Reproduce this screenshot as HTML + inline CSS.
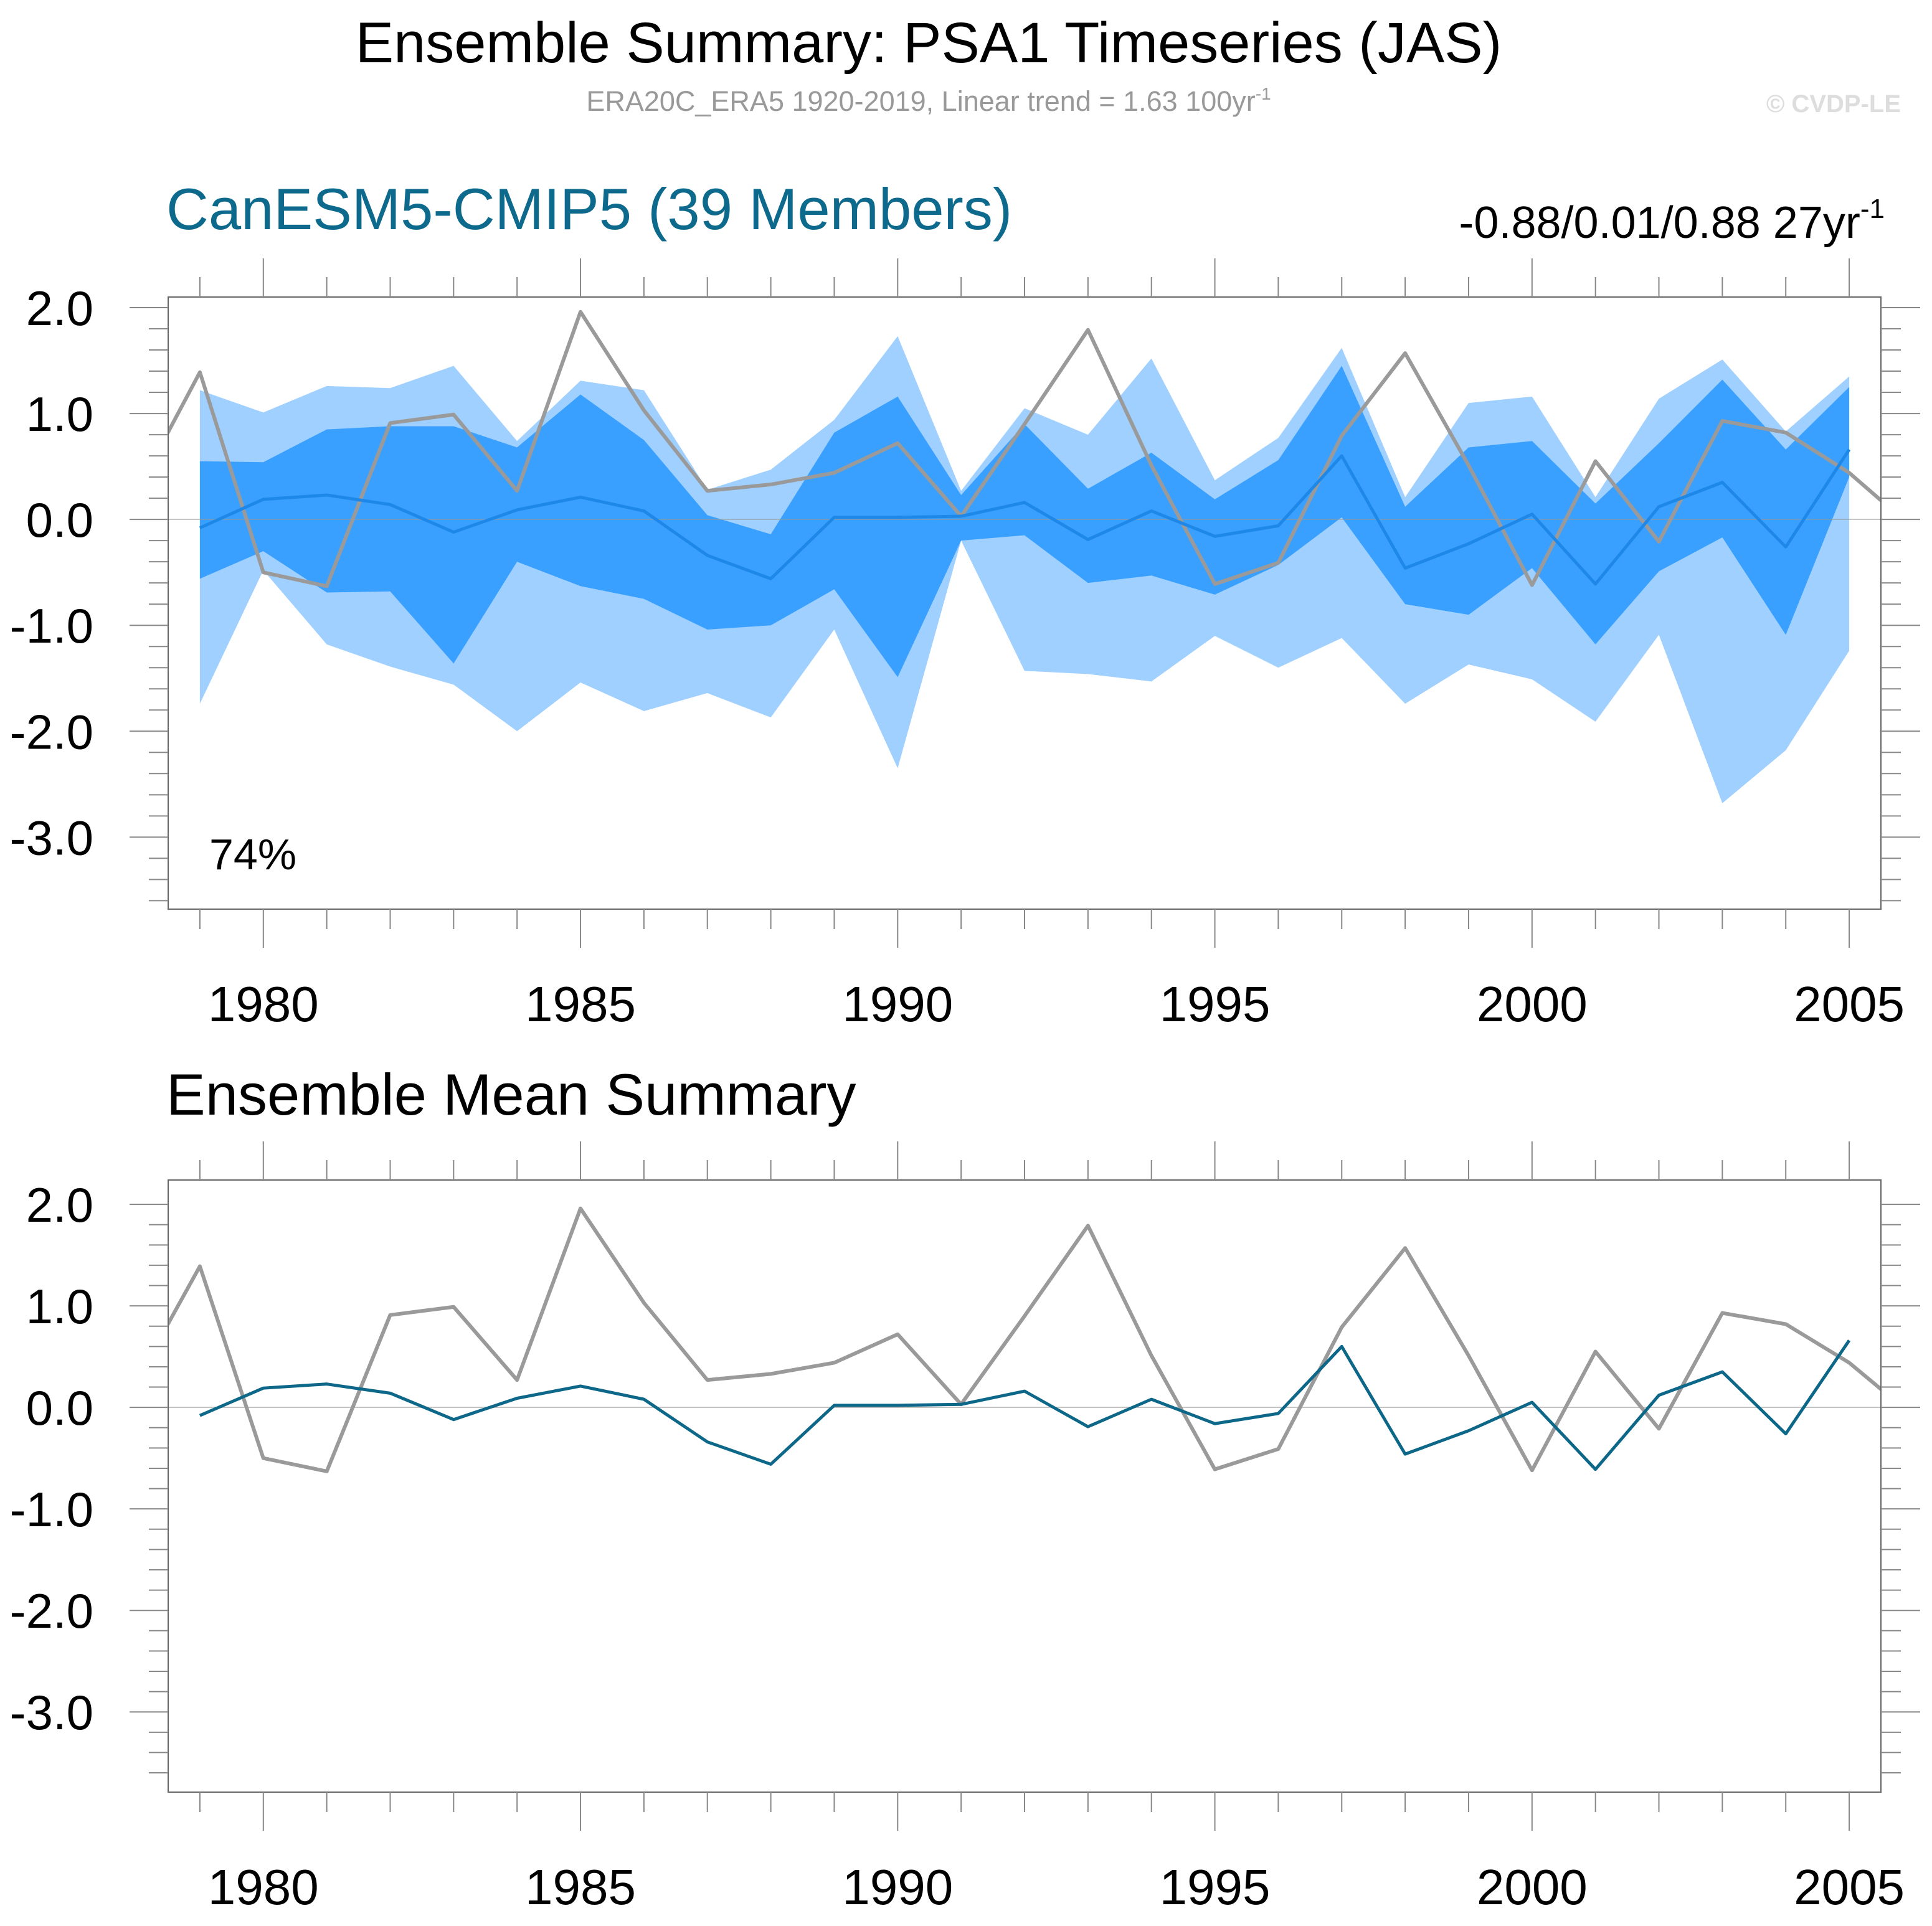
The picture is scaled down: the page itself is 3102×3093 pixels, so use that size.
<!DOCTYPE html>
<html><head><meta charset="utf-8"><style>
html,body{margin:0;padding:0;background:#fff}
svg{display:block;font-family:"Liberation Sans",sans-serif}
</style></head><body>
<svg id="chart" xmlns="http://www.w3.org/2000/svg" width="3102" height="3093" viewBox="0 0 3102 3093">
<text x="1491" y="100" font-size="92" text-anchor="middle" fill="#000">Ensemble Summary: PSA1 Timeseries (JAS)</text>
<text x="1491" y="178" font-size="45" text-anchor="middle" fill="#999">ERA20C_ERA5 1920-2019, Linear trend = 1.63 100yr<tspan font-size="28" dy="-18">-1</tspan></text>
<text x="3052" y="180" font-size="40" font-weight="bold" text-anchor="end" fill="#ddd">© CVDP-LE</text>
<text x="267" y="368" font-size="94" fill="#0e6a8c">CanESM5-CMIP5 (39 Members)</text>
<text x="3026" y="382" font-size="72" text-anchor="end" fill="#000">-0.88/0.01/0.88 27yr<tspan font-size="44" dy="-32">-1</tspan></text>
<text x="267" y="1790" font-size="94" fill="#000">Ensemble Mean Summary</text>
<g id="top"></g>
<g id="bot"></g>
</svg>
<script>
const years = [1979,1980,1981,1982,1983,1984,1985,1986,1987,1988,1989,1990,1991,1992,1993,1994,1995,1996,1997,1998,1999,2000,2001,2002,2003,2004,2005];
const obsYears = [1978,1979,1980,1981,1982,1983,1984,1985,1986,1987,1988,1989,1990,1991,1992,1993,1994,1995,1996,1997,1998,1999,2000,2001,2002,2003,2004,2005,2006];
const obsValues = [0.26,1.39,-0.50,-0.63,0.91,0.99,0.27,1.96,1.03,0.27,0.33,0.44,0.72,0.03,0.90,1.79,0.51,-0.61,-0.41,0.79,1.57,0.51,-0.62,0.55,-0.21,0.93,0.82,0.44,-0.08];
const ensMean = [-0.08,0.19,0.23,0.14,-0.12,0.09,0.21,0.08,-0.34,-0.56,0.02,0.02,0.03,0.16,-0.19,0.08,-0.16,-0.06,0.60,-0.46,-0.23,0.05,-0.61,0.12,0.35,-0.26,0.66];
const innerUpper = [0.55,0.54,0.85,0.88,0.88,0.68,1.18,0.75,0.04,-0.14,0.82,1.16,0.23,0.90,0.29,0.63,0.19,0.56,1.45,0.12,0.68,0.74,0.15,0.72,1.32,0.66,1.25];
const innerLower = [-0.56,-0.30,-0.69,-0.68,-1.36,-0.40,-0.63,-0.75,-1.04,-1.00,-0.66,-1.49,-0.20,-0.15,-0.60,-0.53,-0.71,-0.43,0.02,-0.80,-0.90,-0.46,-1.18,-0.49,-0.17,-1.09,0.40];
const outerUpper = [1.22,1.01,1.26,1.24,1.45,0.74,1.31,1.22,0.28,0.47,0.94,1.73,0.27,1.05,0.80,1.52,0.37,0.77,1.62,0.21,1.10,1.16,0.21,1.14,1.51,0.83,1.35];
const outerLower = [-1.74,-0.48,-1.18,-1.39,-1.56,-2.00,-1.54,-1.81,-1.64,-1.87,-1.04,-2.35,-0.20,-1.43,-1.46,-1.53,-1.10,-1.40,-1.12,-1.74,-1.37,-1.51,-1.91,-1.09,-2.68,-2.18,-1.24];
const yTickValues = [2,1,0,-1,-2,-3];
const yTickLabels = ["2.0","1.0","0.0","-1.0","-2.0","-3.0"];
const xTickValues = [1980,1985,1990,1995,2000,2005];
const xTickLabels = ["1980","1985","1990","1995","2000","2005"];
const percentLabel = "74%";

const NS="http://www.w3.org/2000/svg";
const L=270,R=3020,X0=1978.5,X1=2005.5,H=983;
const xs=v=>L+(v-X0)/(X1-X0)*(R-L);
function mk(tag,attrs,parent){const e=document.createElementNS(NS,tag);for(const k in attrs)e.setAttribute(k,attrs[k]);parent.appendChild(e);return e;}
function panel(g,top,full,YMAX,YMIN){
  const ys=v=>top+(YMAX-v)/(YMAX-YMIN)*H;
  const cid='clip'+top;
  const cp=mk('clipPath',{id:cid},g);mk('rect',{x:L,y:top,width:R-L,height:H},cp);
  const pg=mk('g',{'clip-path':'url(#'+cid+')'},g);
  if(full){
    const outer=years.map((y,i)=>xs(y)+','+ys(outerUpper[i])).concat(years.map((y,i)=>xs(y)+','+ys(outerLower[i])).reverse()).join(' ');
    const p1=mk('polygon',{points:outer,fill:'#a0d0ff'},pg);
    
    
    const inner=years.map((y,i)=>xs(y)+','+ys(innerUpper[i])).concat(years.map((y,i)=>xs(y)+','+ys(innerLower[i])).reverse()).join(' ');
    const p2=mk('polygon',{points:inner,fill:'#3aa0ff'},pg);
    
    
  }
  const z=mk('line',{x1:L,x2:R,y1:ys(0),y2:ys(0),stroke:'#999','stroke-width':1.5,opacity:0.7},pg);
  
  
  const ol=mk('polyline',{points:obsYears.map((y,i)=>xs(y)+','+ys(obsValues[i])).join(' '),fill:'none',stroke:'#9a9a9a','stroke-width':6,'stroke-linejoin':'round'},pg);
  
  
  const ml=mk('polyline',{points:years.map((y,i)=>xs(y)+','+ys(ensMean[i])).join(' '),fill:'none',stroke:full?'#1e88e8':'#0d6788','stroke-width':5,'stroke-linejoin':'round'},pg);
  
  
  const fr=mk('rect',{x:L,y:top,width:R-L,height:H,fill:'none',stroke:'#666','stroke-width':2},g);
  
  
  for(let k=0;;k++){
    const vv=Math.round((2-0.2*k)*10)/10; if(vv<YMIN)break;
    const major=Math.abs(vv-Math.round(vv))<1e-6;
    const y=ys(vv);
    mk('line',{x1:major?208:239,x2:L,y1:y,y2:y,stroke:'#888','stroke-width':2},g);
    mk('line',{x1:R,x2:major?3083:3052,y1:y,y2:y,stroke:'#888','stroke-width':2},g);
  }
  yTickValues.forEach((v,i)=>{
    const t=mk('text',{x:150,y:ys(v)+28,'font-size':78,'text-anchor':'end',fill:'#000'},g);
    
    
    t.textContent=yTickLabels[i];
  });
  for(let yr=1979;yr<=2005;yr++){
    const major=yr%5===0;const x=xs(yr);
    mk('line',{x1:x,x2:x,y1:top,y2:top-(major?62:32),stroke:'#888','stroke-width':2},g);
    mk('line',{x1:x,x2:x,y1:top+H,y2:top+H+(major?62:32),stroke:'#888','stroke-width':2},g);
  }
  xTickValues.forEach((v,i)=>{
    const t=mk('text',{x:xs(v),y:top+H+180,'font-size':80,'text-anchor':'middle',fill:'#000'},g);
    
    
    t.textContent=xTickLabels[i];
  });
  if(full){
    const t=mk('text',{x:336,y:top+H-64,'font-size':70,fill:'#000'},g);
    
    
    t.textContent=percentLabel;
  }
}
panel(document.getElementById('top'),477,true,2.1,-3.68);
panel(document.getElementById('bot'),1895,false,2.24,-3.79);
</script>
</body></html>
